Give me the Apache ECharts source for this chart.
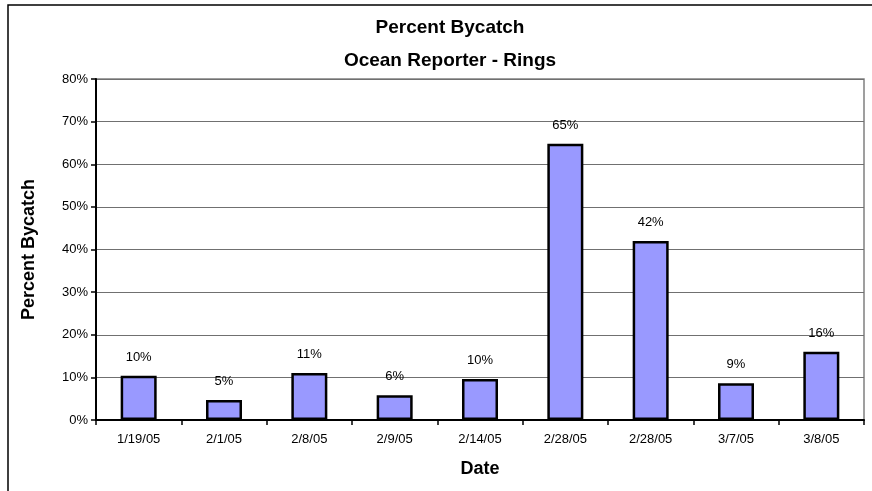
<!DOCTYPE html>
<html><head><meta charset="utf-8">
<script src="https://cdn.jsdelivr.net/npm/echarts@6/dist/echarts.min.js"></script>
<style>html,body{margin:0;padding:0;background:#fff}#c{width:872px;height:491px}</style>
</head><body><div id="c"></div>
<script>
var categories = ['1/19/05','2/1/05','2/8/05','2/9/05','2/14/05','2/28/05','2/28/05','3/7/05','3/8/05'];
var values = [10.4, 4.7, 11.0, 5.8, 9.6, 64.8, 42.0, 8.6, 16.0];
var yTicks = [0,10,20,30,40,50,60,70,80];
var chart = echarts.init(document.getElementById('c'));
var F = 'Liberation Sans, Arial, sans-serif';
chart.setOption({
  animation: false,
  backgroundColor: '#fff',
  title: [
    {text: 'Percent Bycatch', left: 445, top: 13, textAlign: 'center',
     textStyle: {fontFamily: F, fontSize: 19, fontWeight: 'bold', color: '#000'}},
    {text: 'Ocean Reporter - Rings', left: 445, top: 46, textAlign: 'center',
     textStyle: {fontFamily: F, fontSize: 19, fontWeight: 'bold', color: '#000'}}
  ],
  graphic: [{type: 'rect', shape: {x: 8, y: 5, width: 880, height: 520},
    style: {fill: 'none', stroke: '#000', lineWidth: 1.5}, silent: true}],
  grid: {left: 96, right: 8, top: 79, bottom: 71, show: true, borderColor: '#808080', borderWidth: 1.5},
  xAxis: {
    type: 'category', data: categories,
    name: 'Date', nameLocation: 'middle', nameGap: 40,
    nameTextStyle: {fontFamily: F, fontSize: 18, fontWeight: 'bold', color: '#000'},
    axisLine: {lineStyle: {color: '#000', width: 2}},
    axisTick: {show: true, length: 5, lineStyle: {color: '#000', width: 1.5}},
    axisLabel: {fontFamily: F, fontSize: 13, color: '#000', margin: 13}
  },
  yAxis: {
    type: 'value', min: 0, max: 80, interval: 10,
    name: 'Percent Bycatch', nameLocation: 'middle', nameGap: 58, nameRotate: 90,
    nameTextStyle: {fontFamily: F, fontSize: 18, fontWeight: 'bold', color: '#000'},
    axisLine: {show: true, lineStyle: {color: '#000', width: 2}},
    axisTick: {show: true, length: 5, lineStyle: {color: '#000', width: 1.5}},
    axisLabel: {fontFamily: F, fontSize: 13, color: '#000', margin: 8,
      formatter: function (v) { return yTicks.indexOf(v) >= 0 ? v + '%' : ''; }},
    splitLine: {show: true, lineStyle: {color: '#707070', width: 1.2}}
  },
  series: [{
    type: 'bar', data: values, barWidth: 36,
    itemStyle: {color: '#9999FF', borderColor: '#000', borderWidth: 2.5},
    label: {show: true, position: 'top', distance: 12, fontFamily: F, fontSize: 13, color: '#000',
      formatter: function (p) { return Math.round(p.value) + '%'; }}
  }]
});
</script></body></html>
